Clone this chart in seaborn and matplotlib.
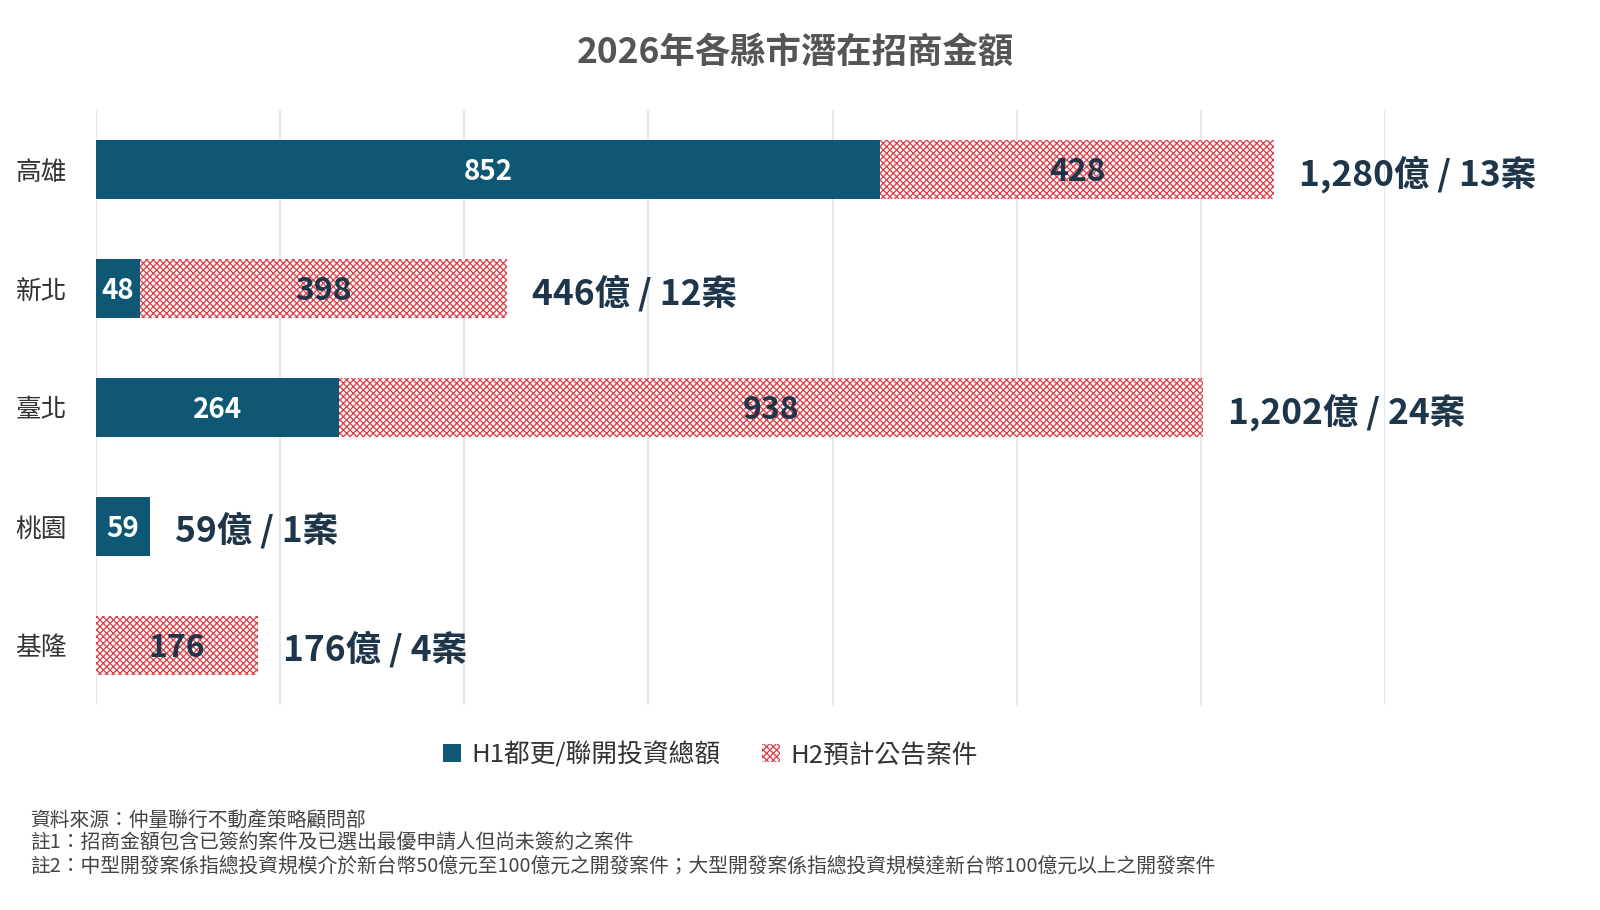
import pandas as pd
import seaborn as sns
import matplotlib.pyplot as plt
from matplotlib.patches import Patch

# data
cities = ['高雄', '新北', '臺北', '桃園', '基隆']
h1 = [852, 48, 264, 59, 0]
h2 = [428, 398, 938, 0, 176]
cases = [13, 12, 24, 1, 4]

h1_name = 'H1都更/聯開投資總額'
h2_name = 'H2預計公告案件'
ticks = [0, 200, 400, 600, 800, 1000, 1200, 1400]

df = pd.DataFrame({'city': cities, 'h1': h1, 'h2': h2, 'cases': cases})
df['total'] = df['h1'] + df['h2']

sns.set_style('white')
plt.rcParams['font.family'] = ['Noto Sans CJK TC', 'DejaVu Sans']
plt.rcParams['hatch.linewidth'] = 0.9

navy = '#0e5875'
red = '#d8424c'
dark = '#1f3549'

fig = plt.figure(figsize=(16, 9.1), dpi=100)
ax = fig.add_axes([0.06, 0.2253, 0.8056, 0.6538])

# total bar (hatched) underneath, then H1 on top
sns.barplot(data=df, y='city', x='total', ax=ax, color='#fff4f4', width=0.5,
            hatch='xxxxx', edgecolor=red, linewidth=0, saturation=1, zorder=2)
sns.barplot(data=df, y='city', x='h1', ax=ax, color=navy, width=0.5,
            linewidth=0, saturation=1, zorder=3)

ax.set_xlim(0, 1400)
ax.set_ylim(4.5, -0.5)
ax.set_xticks(ticks)
ax.set_xticklabels([])
ax.grid(axis='x', color='#dbe3ec', linewidth=1.2, zorder=0)
ax.set_axisbelow(True)
ax.tick_params(axis='y', length=0, pad=21, labelsize=18.5, labelcolor='#333333')
ax.tick_params(axis='x', length=0)
ax.set_xlabel('')
ax.set_ylabel('')
sns.despine(ax=ax, left=True, bottom=True)

for i, row in df.iterrows():
    if row['h1'] > 0:
        ax.annotate(f"{row['h1']}", xy=(row['h1'] / 2, i), xytext=(0, -2),
                    textcoords='offset points', ha='center', va='center',
                    color='white', fontsize=20, fontweight='bold', zorder=5)
    if row['h2'] > 0:
        ax.annotate(f"{row['h2']}", xy=(row['h1'] + row['h2'] / 2, i), xytext=(0, -2),
                    textcoords='offset points', ha='center', va='center',
                    color=dark, fontsize=23, fontweight='bold', zorder=5)
    ax.annotate(f"{row['total']:,}億 / {row['cases']}案", xy=(row['total'], i),
                xytext=(18, -3), textcoords='offset points', ha='left', va='center',
                color=dark, fontsize=25.5, fontweight='bold', zorder=5,
                annotation_clip=False)

fig.text(0.497, 0.943, '2026年各縣市潛在招商金額', ha='center', va='center',
         fontsize=25.5, fontweight='bold', color='#555555')

handles = [Patch(facecolor=navy, edgecolor=navy, linewidth=0),
           Patch(facecolor='#fff4f4', edgecolor=red, hatch='xxxxx', linewidth=0)]
fig.legend(handles, [h1_name, h2_name], loc='center', bbox_to_anchor=(0.444, 0.17),
           ncol=2, frameon=False, fontsize=18.5, handlelength=0.7, handleheight=0.7,
           handletextpad=0.4, columnspacing=1.6, labelcolor='#333333')

notes = ['資料來源：仲量聯行不動產策略顧問部',
         '註1：招商金額包含已簽約案件及已選出最優申請人但尚未簽約之案件',
         '註2：中型開發案係指總投資規模介於新台幣50億元至100億元之開發案件；大型開發案係指總投資規模達新台幣100億元以上之開發案件']
for k, t in enumerate(notes):
    fig.text(0.019, 0.099 - k * 0.0253, t, ha='left', va='center',
             fontsize=14.25, color='#444444')

fig.savefig('out.png', dpi=100, facecolor='white')
